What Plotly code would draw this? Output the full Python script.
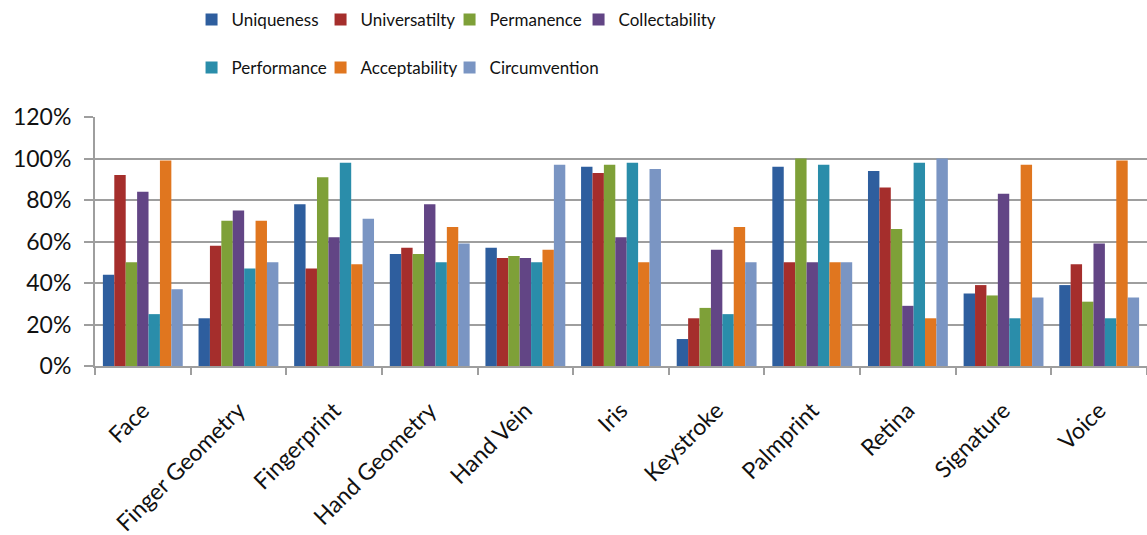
import plotly.graph_objects as go

categories = ["Face", "Finger Geometry", "Fingerprint", "Hand Geometry", "Hand Vein",
              "Iris", "Keystroke", "Palmprint", "Retina", "Signature", "Voice"]

uniqueness     = [0.44, 0.23, 0.78, 0.54, 0.57, 0.96, 0.13, 0.96, 0.94, 0.35, 0.39]
universality   = [0.92, 0.58, 0.47, 0.57, 0.52, 0.93, 0.23, 0.50, 0.86, 0.39, 0.49]
permanence     = [0.50, 0.70, 0.91, 0.54, 0.53, 0.97, 0.28, 1.00, 0.66, 0.34, 0.31]
collectability = [0.84, 0.75, 0.62, 0.78, 0.52, 0.62, 0.56, 0.50, 0.29, 0.83, 0.59]
performance    = [0.25, 0.47, 0.98, 0.50, 0.50, 0.98, 0.25, 0.97, 0.98, 0.23, 0.23]
acceptability  = [0.99, 0.70, 0.49, 0.67, 0.56, 0.50, 0.67, 0.50, 0.23, 0.97, 0.99]
circumvention  = [0.37, 0.50, 0.71, 0.59, 0.97, 0.95, 0.50, 0.50, 1.00, 0.33, 0.33]

series = [
    ("Uniqueness", uniqueness, "#2E5E9E", "legend"),
    ("Universatilty", universality, "#A52E2C", "legend"),
    ("Permanence", permanence, "#7EA038", "legend"),
    ("Collectability", collectability, "#624585", "legend"),
    ("Performance", performance, "#2A8DAA", "legend2"),
    ("Acceptability", acceptability, "#E0761F", "legend2"),
    ("Circumvention", circumvention, "#7A95C3", "legend2"),
]

FONT = "Lato"
GRID = "#9E9E9E"
TEXT = "#111111"

fig = go.Figure()
for name, vals, color, leg in series:
    fig.add_trace(go.Bar(
        name=name, x=categories, y=vals,
        marker=dict(color=color, line=dict(width=0)),
        legend=leg,
    ))

# blank, invisible entry closing each legend row so the last label keeps its full width
for leg in ("legend", "legend2"):
    fig.add_trace(go.Scatter(
        x=[categories[0]], y=[None], mode="markers", name=" ",
        marker=dict(color="rgba(0,0,0,0)", size=1),
        legend=leg, hoverinfo="skip", showlegend=True,
    ))

legend_common = dict(
    orientation="h",
    xref="container", yref="container",
    xanchor="left", yanchor="middle",
    font=dict(family=FONT, size=17, color=TEXT),
    entrywidth=84, entrywidthmode="pixels",
    itemwidth=30,
    bgcolor="rgba(0,0,0,0)",
    traceorder="normal",
)

fig.update_layout(
    width=1147, height=535,
    margin=dict(l=95, r=0, t=117, b=169, autoexpand=False),
    paper_bgcolor="white", plot_bgcolor="white",
    barmode="group", bargap=0.165, bargroupgap=0,
    font=dict(family=FONT, size=20, color=TEXT),
    legend=dict(x=0.167, y=1 - 20 / 535, **legend_common),
    legend2=dict(x=0.167, y=1 - 68 / 535, **legend_common),
    xaxis=dict(
        type="category",
        range=[-0.5, len(categories) - 0.5],
        automargin=False,
        tickangle=-45,
        tickson="boundaries",
        ticks="outside", ticklen=7, tickcolor=GRID, tickwidth=2,
        ticklabelstandoff=20,
        showline=True, linecolor=GRID, linewidth=2,
        showgrid=False,
        tickfont=dict(family=FONT, size=23, color=TEXT),
    ),
    yaxis=dict(
        automargin=False,
        range=[0, 1.2], dtick=0.2, tickformat=".0%",
        ticks="outside", ticklen=9, tickcolor=GRID, tickwidth=2,
        ticklabelstandoff=8,
        showline=True, linecolor=GRID, linewidth=2,
        showgrid=True, gridcolor=GRID, gridwidth=2,
        zeroline=False,
        tickfont=dict(family=FONT, size=23, color=TEXT),
    ),
)

fig.write_html("out.html")
